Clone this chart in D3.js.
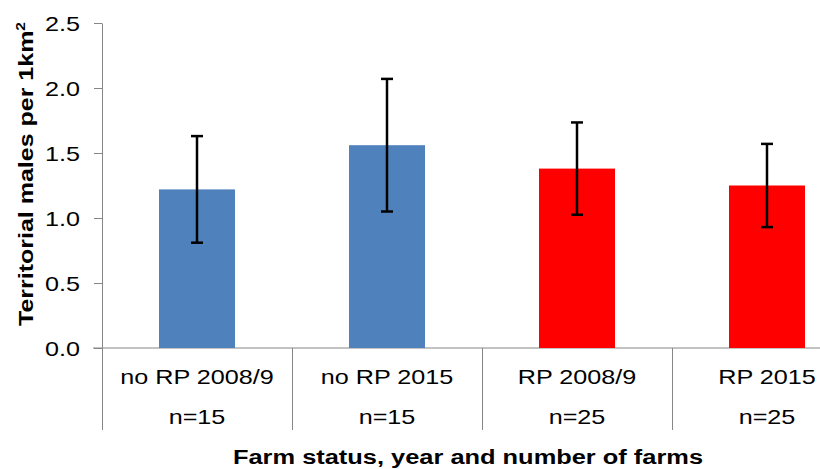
<!DOCTYPE html>
<html>
<head>
<meta charset="utf-8">
<script src="https://cdn.jsdelivr.net/npm/d3@7"></script>
<style>
  html, body { margin: 0; padding: 0; background: #fff; overflow: hidden; }
  svg { display: block; font-family: "Liberation Sans", Arial, sans-serif; }
</style>
</head>
<body>
<svg id="chart" width="820" height="469"></svg>
<script>
// ---- data ----
const categories = ["no RP 2008/9", "no RP 2015", "RP 2008/9", "RP 2015"];
const sampleSizes = ["n=15", "n=15", "n=25", "n=25"];
const meanValues = [1.22, 1.56, 1.38, 1.25];
const errorValues = [0.41, 0.51, 0.355, 0.32];
const barColors = ["#4F81BD", "#4F81BD", "#FF0000", "#FF0000"];
const yTicks = [0, 0.5, 1.0, 1.5, 2.0, 2.5];
const yTitle = "Territorial males per 1km";
const xTitle = "Farm status, year and number of farms";

// ---- layout ----
const svg = d3.select("#chart");
const plotLeft = 102, plotRight = 862, plotTop = 23, plotBottom = 348, catBottom = 430;
const axisColor = "#868686";
const stretch = 1.26;

const y = d3.scaleLinear().domain([0, 2.5]).range([plotBottom, plotTop]);
const xCat = d3.scaleBand().domain(categories).range([plotLeft, plotRight]).padding(0);
const xBar = d3.scaleBand().domain(categories).range([plotLeft, plotRight])
  .paddingInner(0.6).paddingOuter(0.3);

// y axis
const yAxis = d3.axisLeft(y).tickValues(yTicks).tickFormat(d3.format(".1f"))
  .tickSize(8).tickSizeOuter(0);
const gy = svg.append("g").attr("transform", `translate(${plotLeft},0)`).call(yAxis);
gy.select(".domain").attr("stroke", axisColor);
gy.selectAll(".tick line").attr("stroke", axisColor);
gy.selectAll(".tick text")
  .attr("font-size", 20)
  .attr("font-family", "Liberation Sans, Arial, sans-serif")
  .attr("fill", "#000")
  .attr("x", -22 / stretch)
  .attr("dy", "0.36em")
  .attr("transform", `scale(${stretch},1)`);

// x axis baseline
svg.append("line")
  .attr("x1", plotLeft - 9).attr("x2", plotRight)
  .attr("y1", y(0)).attr("y2", y(0))
  .attr("stroke", axisColor).attr("stroke-width", 1);

// category boundaries (multi-level axis)
svg.append("g").selectAll("line")
  .data(categories)
  .join("line")
  .attr("x1", d => Math.round(xCat(d)) + 0.5)
  .attr("x2", d => Math.round(xCat(d)) + 0.5)
  .attr("y1", y(0)).attr("y2", catBottom)
  .attr("stroke", axisColor).attr("stroke-width", 1);

// bars
svg.append("g").selectAll("rect")
  .data(categories)
  .join("rect")
  .attr("x", d => xBar(d))
  .attr("width", xBar.bandwidth())
  .attr("y", (d, i) => y(meanValues[i]))
  .attr("height", (d, i) => y(0) - y(meanValues[i]))
  .attr("fill", (d, i) => barColors[i]);

// error bars
const eb = svg.append("g").attr("stroke", "#000").attr("stroke-width", 2.5);
categories.forEach((c, i) => {
  const cx = xBar(c) + xBar.bandwidth() / 2;
  const hi = y(meanValues[i] + errorValues[i]);
  const lo = y(meanValues[i] - errorValues[i]);
  eb.append("line").attr("x1", cx).attr("x2", cx).attr("y1", hi).attr("y2", lo);
  eb.append("line").attr("x1", cx - 6).attr("x2", cx + 6).attr("y1", hi).attr("y2", hi);
  eb.append("line").attr("x1", cx - 6).attr("x2", cx + 6).attr("y1", lo).attr("y2", lo);
});

// helper for stretched text
function sText(parent, x, yy, str, size, weight, rot, sx) {
  const g = parent.append("g")
    .attr("transform", `translate(${x},${yy})${rot ? " rotate(" + rot + ")" : ""} scale(${sx || stretch},1)`);
  const t = g.append("text")
    .attr("text-anchor", "middle")
    .attr("font-size", size)
    .attr("font-weight", weight || "normal")
    .attr("fill", "#000")
    .text(str);
  return t;
}

// category labels
categories.forEach((c, i) => {
  const cx = xCat(c) + xCat.bandwidth() / 2;
  sText(svg, cx, 384, c, 20);
  sText(svg, cx, 424, sampleSizes[i], 20);
});

// x title
sText(svg, 468, 464, xTitle, 20, "bold", 0, 1.27);

// y title with superscript
const yt = sText(svg, 33, 174, yTitle, 21, "bold", -90, 1.19);
yt.append("tspan").attr("dy", -8).attr("font-size", 13).text("2");
</script>
</body>
</html>
